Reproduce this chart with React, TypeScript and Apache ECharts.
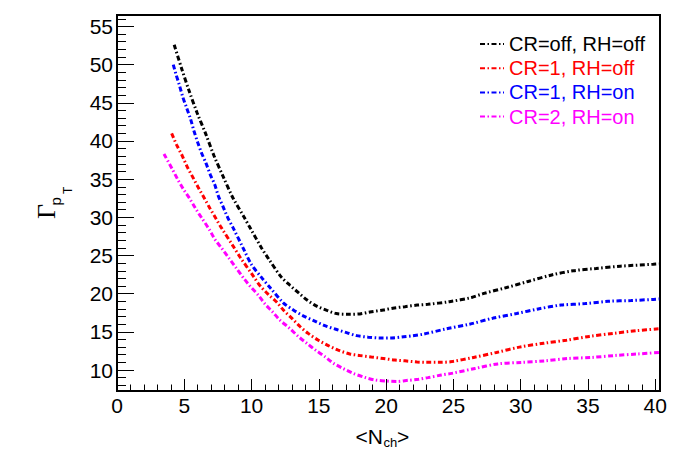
import React, { useEffect, useRef } from "react";
import * as echarts from "echarts";

// ---- data ----
const seriesNames = ["CR=off, RH=off", "CR=1, RH=off", "CR=1, RH=on", "CR=2, RH=on"];
const seriesColors = ["#000000", "#ff0000", "#0000ff", "#ff00ff"];

const blackData: number[][] = [
  [4.25, 52.6], [4.8, 49.5], [5.35, 46.6], [5.95, 43.7], [6.6, 40.9], [7.2, 38.1],
  [7.9, 35.3], [8.6, 32.6], [9.45, 30.0], [9.9, 28.6], [10.75, 25.95], [11.25, 24.6],
  [12.2, 22.2], [12.85, 21.1], [13.5, 20.1], [14.1, 19.2], [14.8, 18.4], [15.6, 17.8],
  [16.3, 17.4], [17.2, 17.3], [18.05, 17.35], [18.8, 17.6], [19.8, 17.86], [20.5, 18.1],
  [21.4, 18.3], [22.3, 18.5], [23.1, 18.6], [24.7, 18.95], [26.35, 19.5], [27.2, 20.0],
  [28.95, 20.8], [30.55, 21.6], [32.3, 22.45], [33.9, 23.0], [35.6, 23.3], [37.4, 23.6],
  [39.85, 23.85], [40.3, 23.9],
];

const redData: number[][] = [
  [4.06, 41.0], [4.43, 39.5], [4.85, 38.05], [5.22, 36.6], [5.62, 35.3], [6.04, 33.9],
  [6.46, 32.6], [6.9, 31.2], [7.33, 29.9], [7.75, 28.65], [8.64, 26.2], [9.14, 24.8],
  [10.13, 22.3], [10.6, 21.1], [11.24, 19.9], [11.86, 18.9], [12.36, 17.86], [12.98, 16.8],
  [13.6, 15.7], [14.2, 14.8], [14.96, 13.9], [15.7, 13.2], [16.44, 12.6], [17.3, 12.1],
  [18.05, 11.9], [18.9, 11.7], [19.8, 11.5], [20.65, 11.3], [21.4, 11.2], [22.3, 11.05],
  [23.0, 11.0], [24.0, 11.0], [24.87, 11.1], [26.5, 11.65], [28.2, 12.3], [29.9, 13.0],
  [31.7, 13.5], [33.4, 13.9], [35.1, 14.4], [36.9, 14.8], [38.6, 15.15], [40.3, 15.4],
];

const blueData: number[][] = [
  [4.18, 50.0], [4.38, 48.75], [4.63, 47.35], [4.88, 45.8], [5.18, 44.3], [5.47, 42.85],
  [5.72, 41.3], [6.0, 39.8], [6.29, 38.4], [6.61, 37.1], [6.93, 35.6], [7.26, 34.3],
  [7.53, 32.8], [7.88, 31.4], [8.22, 30.0], [8.62, 28.65], [9.38, 25.95], [10.0, 23.8],
  [10.75, 22.1], [11.37, 20.8], [12.36, 18.8], [13.1, 17.86], [13.84, 17.1], [14.7, 16.4],
  [15.45, 15.8], [16.32, 15.3], [17.06, 14.9], [17.8, 14.5], [18.67, 14.3], [19.54, 14.2],
  [20.4, 14.2], [21.3, 14.35], [22.0, 14.5], [22.76, 14.7], [24.5, 15.4], [26.2, 16.0],
  [27.96, 16.8], [29.7, 17.4], [31.3, 18.0], [33.0, 18.5], [34.8, 18.7], [36.5, 19.0],
  [38.2, 19.1], [39.85, 19.25], [40.3, 19.3],
];

const magentaData: number[][] = [
  [3.49, 38.3], [4.11, 36.3], [4.5, 35.0], [4.93, 33.7], [5.42, 32.4], [5.87, 31.06],
  [6.34, 29.8], [6.86, 28.4], [7.28, 27.1], [7.78, 25.95], [8.34, 24.6], [8.84, 23.4],
  [9.38, 22.1], [9.88, 21.0], [10.5, 19.8], [11.0, 18.65], [11.57, 17.6], [12.1, 16.55],
  [12.8, 15.5], [13.47, 14.4], [14.1, 13.5], [14.76, 12.6], [15.45, 11.75], [16.07, 10.9],
  [16.8, 10.2], [17.55, 9.56], [18.4, 9.04], [19.17, 8.69], [20.0, 8.56], [20.8, 8.5],
  [21.64, 8.65], [22.4, 8.78], [23.1, 9.0], [24.1, 9.34], [24.87, 9.56], [26.6, 10.2],
  [28.3, 10.8], [30.07, 11.0], [31.8, 11.2], [33.5, 11.5], [35.3, 11.65], [37.0, 11.9],
  [38.7, 12.1], [40.3, 12.3],
];

const xMin = 0;
const xMax = 40.35;
const yMin = 7.25;
const yMax = 56.5;
const xMajorTicks = [0, 5, 10, 15, 20, 25, 30, 35, 40];
const xMinorTicks = Array.from({ length: 41 }, (_, i) => i);
const yMajorTicks = [10, 15, 20, 25, 30, 35, 40, 45, 50, 55];
const yMinorTicks = Array.from({ length: 49 }, (_, i) => i + 8);

const FONT = "Liberation Sans";

export default function App() {
  const ref = useRef<HTMLDivElement>(null);
  useEffect(() => {
    document.body.style.margin = "0";
    if (!ref.current) return;
    const chart = echarts.init(ref.current, undefined, { renderer: "svg" });
    const allData = [blackData, redData, blueData, magentaData];
    const dash = [5, 2.5, 1.5, 2.5];
    const axisLabelStyle = { fontSize: 21, fontFamily: FONT, color: "#000" };
    chart.setOption({
      animation: false,
      backgroundColor: "#ffffff",
      grid: {
        left: 117,
        right: 18,
        top: 15,
        bottom: 80,
        show: true,
        borderColor: "#000",
        borderWidth: 2,
        backgroundColor: "transparent",
      },
      legend: {
        orient: "vertical",
        left: 479,
        top: 34,
        padding: 0,
        itemWidth: 24,
        itemHeight: 14,
        itemGap: 4.2,
        itemStyle: { opacity: 0 },
        lineStyle: { width: 2 },
        textStyle: { fontSize: 20, fontFamily: FONT, lineHeight: 20, padding: [0, 0, 0, 0] },
        data: seriesNames.map((n, i) => ({
          name: n,
          textStyle: { color: seriesColors[i] },
        })),
      },
      xAxis: [
        {
          type: "value",
          min: xMin,
          max: xMax,
          position: "bottom",
          axisLine: { show: true, onZero: false, lineStyle: { color: "#000", width: 2 } },
          axisTick: { show: true, inside: true, length: 12, customValues: xMajorTicks, lineStyle: { color: "#000", width: 1 } },
          axisLabel: { show: true, customValues: xMajorTicks, margin: 4, ...axisLabelStyle },
          splitLine: { show: false },
        },
        {
          type: "value",
          min: xMin,
          max: xMax,
          position: "bottom",
          axisLine: { show: false },
          axisTick: { show: true, inside: true, length: 6.5, customValues: xMinorTicks, lineStyle: { color: "#000", width: 1 } },
          axisLabel: { show: false },
          splitLine: { show: false },
        },
      ],
      yAxis: [
        {
          type: "value",
          min: yMin,
          max: yMax,
          position: "left",
          axisLine: { show: true, onZero: false, lineStyle: { color: "#000", width: 2 } },
          axisTick: { show: true, inside: true, length: 17, customValues: yMajorTicks, lineStyle: { color: "#000", width: 1 } },
          axisLabel: { show: true, customValues: yMajorTicks, margin: 4, ...axisLabelStyle },
          splitLine: { show: false },
        },
        {
          type: "value",
          min: yMin,
          max: yMax,
          position: "left",
          axisLine: { show: false },
          axisTick: { show: true, inside: true, length: 9, customValues: yMinorTicks, lineStyle: { color: "#000", width: 1 } },
          axisLabel: { show: false },
          splitLine: { show: false },
        },
      ],
      series: seriesNames.map((n, i) => ({
        type: "line",
        name: n,
        xAxisIndex: 0,
        yAxisIndex: 0,
        data: allData[i],
        smooth: 0.3,
        symbol: "none",
        showSymbol: false,
        lineStyle: { color: seriesColors[i], width: 3, type: dash },
        itemStyle: { color: seriesColors[i] },
      })),
      graphic: [
        // y axis title: Gamma_{p_T}
        {
          type: "text",
          x: 46,
          y: 219,
          rotation: Math.PI / 2,
          style: { text: "Γ", fontSize: 26, fontFamily: "Liberation Serif", fill: "#000", align: "left", verticalAlign: "middle", textAlign: "left", textVerticalAlign: "middle" },
        },
        {
          type: "text",
          x: 55.6,
          y: 205.5,
          rotation: Math.PI / 2,
          style: { text: "p", fontSize: 15, fontFamily: FONT, fill: "#000", align: "left", verticalAlign: "middle", textAlign: "left", textVerticalAlign: "middle" },
        },
        {
          type: "text",
          x: 67.5,
          y: 194,
          rotation: Math.PI / 2,
          style: { text: "T", fontSize: 12, fontFamily: FONT, fill: "#000", align: "left", verticalAlign: "middle", textAlign: "left", textVerticalAlign: "middle" },
        },
        // x axis title: <N_ch>
        {
          type: "text",
          x: 383,
          y: 436,
          style: { text: "<N", fontSize: 21, fontFamily: FONT, fill: "#000", align: "right", verticalAlign: "middle", textAlign: "right", textVerticalAlign: "middle" },
        },
        {
          type: "text",
          x: 383.5,
          y: 442,
          style: { text: "ch", fontSize: 13, fontFamily: FONT, fill: "#000", align: "left", verticalAlign: "middle", textAlign: "left", textVerticalAlign: "middle" },
        },
        {
          type: "text",
          x: 397,
          y: 436,
          style: { text: ">", fontSize: 21, fontFamily: FONT, fill: "#000", align: "left", verticalAlign: "middle", textAlign: "left", textVerticalAlign: "middle" },
        },
      ],
    });
    return () => chart.dispose();
  }, []);
  return <div ref={ref} style={{ width: 678, height: 471 }} />;
}
